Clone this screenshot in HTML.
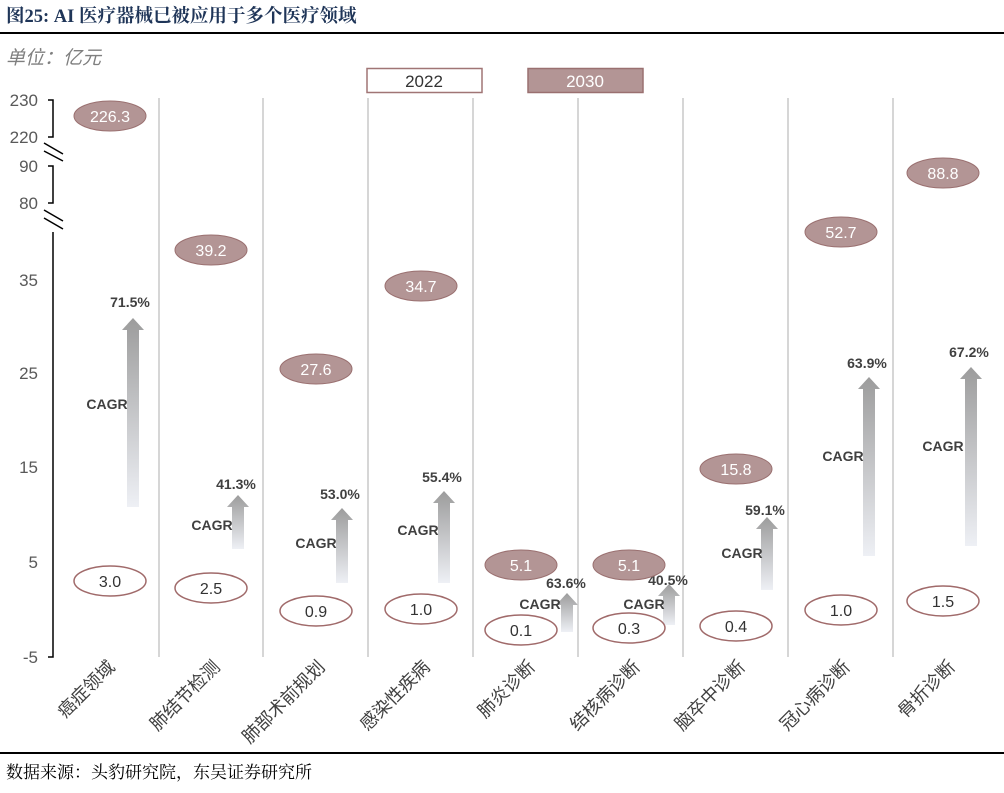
<!DOCTYPE html>
<html><head><meta charset="utf-8"><style>
body{margin:0;background:#fff;}
svg{display:block;font-family:"Liberation Sans","Noto Sans CJK SC",sans-serif;}
</style></head><body>
<svg width="1004" height="793" viewBox="0 0 1004 793" xmlns="http://www.w3.org/2000/svg">
<defs>
<linearGradient id="g" x1="0" y1="0" x2="0" y2="1">
<stop offset="0" stop-color="#9c9c9c"/><stop offset="1" stop-color="#eef0f5"/>
</linearGradient>
</defs>
<text x="6" y="22" font-family="Liberation Serif,'Noto Serif CJK SC',serif" font-weight="bold" font-size="18.5" fill="#1f3558">图25:  AI 医疗器械已被应用于多个医疗领域</text>
<rect x="0" y="32" width="1004" height="2" fill="#000"/>
<text x="6" y="64" font-size="19" font-style="italic" fill="#7f7f7f">单位：亿元</text>
<!-- legend -->
<rect x="367" y="68.5" width="115" height="24" fill="#fff" stroke="#a07575" stroke-width="1.5"/>
<text x="424" y="87" text-anchor="middle" font-size="17" fill="#333">2022</text>
<rect x="528" y="68.5" width="115" height="24" fill="#b39595" stroke="#9a7070" stroke-width="1.5"/>
<text x="585" y="87" text-anchor="middle" font-size="17" fill="#fff">2030</text>
<!-- y labels -->
<g font-size="17" fill="#595959" text-anchor="end">
<text x="38" y="106">230</text><text x="38" y="143">220</text><text x="38" y="172">90</text><text x="38" y="209">80</text>
<text x="38" y="286">35</text><text x="38" y="379">25</text><text x="38" y="473">15</text><text x="38" y="568">5</text><text x="38" y="663">-5</text>
</g>
<g stroke="#000" stroke-width="1.5" fill="none">
<path d="M48 100H53V137H48"/><path d="M48 166H53V203H48"/><path d="M53 232V657H48"/>
<path d="M44 143L63 154M44 151L63 161"/><path d="M44 210L63 221M44 218L63 229"/>
</g>
<!-- grid -->
<g stroke="#d6d6d6" stroke-width="2">
<line x1="159" y1="98" x2="159" y2="657"/><line x1="263" y1="98" x2="263" y2="657"/><line x1="368" y1="98" x2="368" y2="657"/><line x1="473" y1="98" x2="473" y2="657"/><line x1="578" y1="98" x2="578" y2="657"/><line x1="683" y1="98" x2="683" y2="657"/><line x1="788" y1="98" x2="788" y2="657"/><line x1="893" y1="98" x2="893" y2="657"/>
</g>
<!-- arrows -->
<g fill="url(#g)">
<path d="M127 507V330H122L133 318L144 330H139V507Z"/>
<path d="M232 549V507H227L238 495L249 507H244V549Z"/>
<path d="M336 583V520H331L342 508L353 520H348V583Z"/>
<path d="M438 583V503H433L444 491L455 503H450V583Z"/>
<path d="M561 632V605H556L567 593L578 605H573V632Z"/>
<path d="M663 625V596H658L669 584L680 596H675V625Z"/>
<path d="M761 590V529H756L767 517L778 529H773V590Z"/>
<path d="M863 556V389H858L869 377L880 389H875V556Z"/>
<path d="M965 546V379H960L971 367L982 379H977V546Z"/>
</g>
<g font-size="14" font-weight="bold" fill="#404040" text-anchor="middle">
<text x="130" y="307">71.5%</text><text x="107" y="409">CAGR</text>
<text x="236" y="489">41.3%</text><text x="212" y="530">CAGR</text>
<text x="340" y="499">53.0%</text><text x="316" y="548">CAGR</text>
<text x="442" y="482">55.4%</text><text x="418" y="535">CAGR</text>
<text x="566" y="588">63.6%</text><text x="540" y="609">CAGR</text>
<text x="668" y="585">40.5%</text><text x="644" y="609">CAGR</text>
<text x="765" y="515">59.1%</text><text x="742" y="558">CAGR</text>
<text x="867" y="368">63.9%</text><text x="843" y="461">CAGR</text>
<text x="969" y="357">67.2%</text><text x="943" y="451">CAGR</text>
</g>
<!-- 2030 ellipses -->
<g fill="#b39595" stroke="#9a7070" stroke-width="1">
<ellipse cx="110" cy="116" rx="36" ry="15"/><ellipse cx="211" cy="250" rx="36" ry="15"/><ellipse cx="316" cy="369" rx="36" ry="15"/>
<ellipse cx="421" cy="286" rx="36" ry="15"/><ellipse cx="521" cy="565" rx="36" ry="15"/><ellipse cx="629" cy="565" rx="36" ry="15"/>
<ellipse cx="736" cy="469" rx="36" ry="15"/><ellipse cx="841" cy="232" rx="36" ry="15"/><ellipse cx="943" cy="173" rx="36" ry="15"/>
</g>
<g font-size="16" fill="#fff" text-anchor="middle">
<text x="110" y="122">226.3</text><text x="211" y="256">39.2</text><text x="316" y="375">27.6</text>
<text x="421" y="292">34.7</text><text x="521" y="571">5.1</text><text x="629" y="571">5.1</text>
<text x="736" y="475">15.8</text><text x="841" y="238">52.7</text><text x="943" y="179">88.8</text>
</g>
<!-- 2022 ellipses -->
<g fill="#fff" stroke="#a06a6a" stroke-width="1.5">
<ellipse cx="110" cy="581" rx="36" ry="15"/><ellipse cx="211" cy="588" rx="36" ry="15"/><ellipse cx="316" cy="611" rx="36" ry="15"/>
<ellipse cx="421" cy="609" rx="36" ry="15"/><ellipse cx="521" cy="630" rx="36" ry="15"/><ellipse cx="629" cy="628" rx="36" ry="15"/>
<ellipse cx="736" cy="626" rx="36" ry="15"/><ellipse cx="841" cy="610" rx="36" ry="15"/><ellipse cx="943" cy="601" rx="36" ry="15"/>
</g>
<g font-size="16" fill="#333" text-anchor="middle">
<text x="110" y="587">3.0</text><text x="211" y="594">2.5</text><text x="316" y="617">0.9</text>
<text x="421" y="615">1.0</text><text x="521" y="636">0.1</text><text x="629" y="634">0.3</text>
<text x="736" y="632">0.4</text><text x="841" y="616">1.0</text><text x="943" y="607">1.5</text>
</g>
<!-- x labels -->
<g font-size="18" fill="#404040" text-anchor="end">
<text transform="translate(116,668) rotate(-45)">癌症领域</text>
<text transform="translate(221,668) rotate(-45)">肺结节检测</text>
<text transform="translate(326,668) rotate(-45)">肺部术前规划</text>
<text transform="translate(431,668) rotate(-45)">感染性疾病</text>
<text transform="translate(536,668) rotate(-45)">肺炎诊断</text>
<text transform="translate(641,668) rotate(-45)">结核病诊断</text>
<text transform="translate(746,668) rotate(-45)">脑卒中诊断</text>
<text transform="translate(851,668) rotate(-45)">冠心病诊断</text>
<text transform="translate(956,668) rotate(-45)">骨折诊断</text>
</g>
<rect x="0" y="752" width="1004" height="2" fill="#000"/>
<text x="6" y="778" font-family="Liberation Serif,'Noto Serif CJK SC',serif" font-size="17" fill="#000">数据来源：头豹研究院，东吴证券研究所</text>
</svg>
</body></html>
